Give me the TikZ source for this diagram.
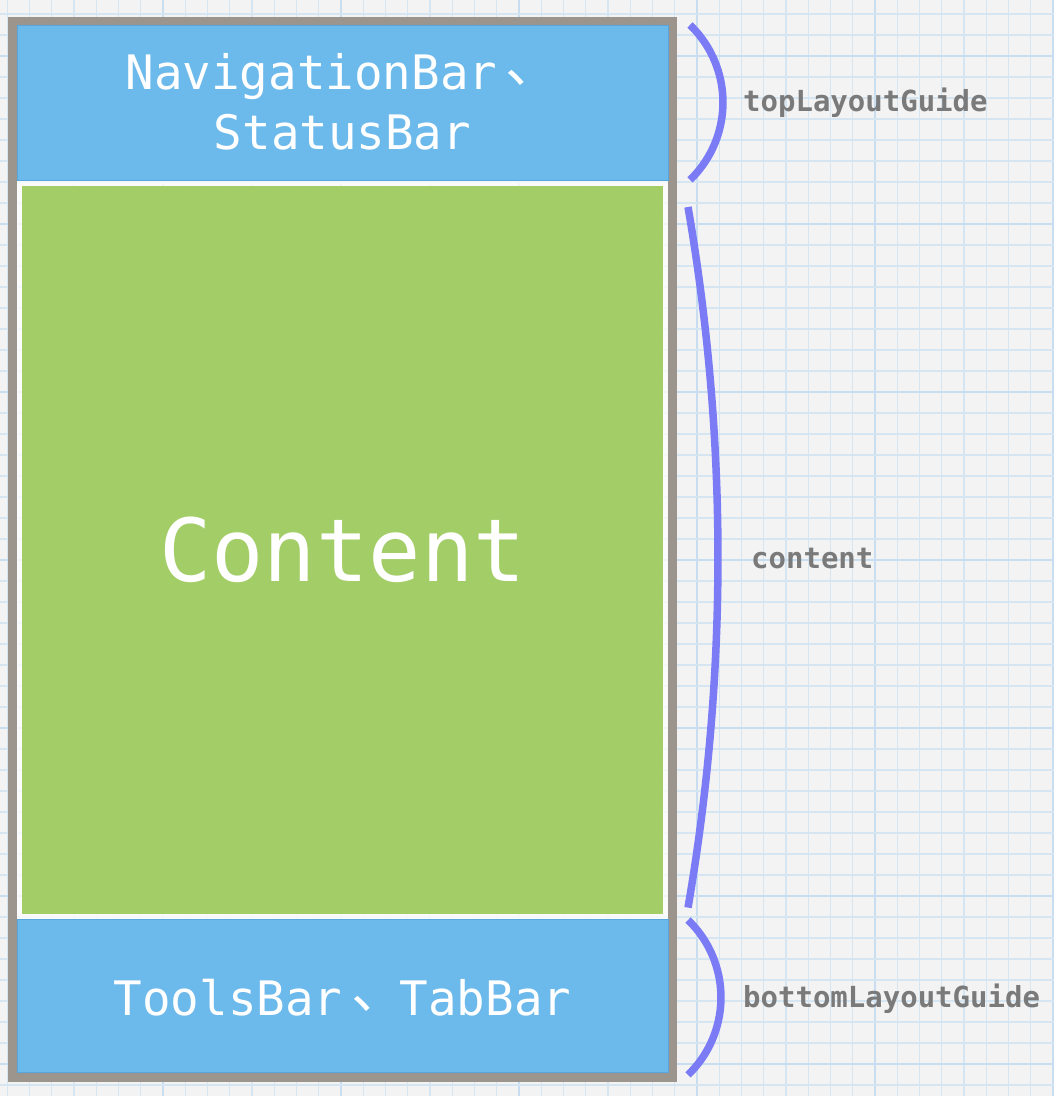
\documentclass[tikz,border=0pt]{standalone}
\usepackage{fontspec}
\newfontfamily\monofont{DejaVu Sans Mono}
\newfontfamily\cjkfont{Noto Sans CJK SC}
\newcommand{\dunhao}{\makebox[1.204em][l]{\hspace{0.18em}\raisebox{0.16em}{\scalebox{1.15}{\cjkfont 、}}}}
\definecolor{paper}{HTML}{F3F3F3}
\definecolor{gridminor}{HTML}{D5E6F2}
\definecolor{gridmajor}{HTML}{C8DEF0}
\definecolor{framegray}{HTML}{9C958D}
\definecolor{barblue}{HTML}{62B5EA}
\definecolor{barblueedge}{HTML}{56A5DC}
\definecolor{contentgreen}{HTML}{A3CD66}
\definecolor{bracecol}{HTML}{7B7CF5}
\definecolor{labelgray}{HTML}{7A7A7A}
\begin{document}
\begin{tikzpicture}[x=1pt,y=1pt,
  gridline/.style={gridminor,line width=1.3pt},
  gridbold/.style={gridmajor,line width=2.6pt},
  barbox/.style={fill=barblue,fill opacity=0.93,draw=barblueedge,line width=1pt},
  bracearc/.style={draw=bracecol,line width=7.5pt},
  bigtext/.style={text=white,inner sep=0pt,font=\monofont\fontsize{47.5}{56}\selectfont},
  contenttext/.style={text=white,inner sep=0pt,font=\monofont\fontsize{87}{100}\selectfont},
  guidelabel/.style={text=labelgray,inner sep=0pt,font=\monofont\bfseries\fontsize{29}{34}\selectfont}]
\useasboundingbox (0,0) rectangle (1054,1096);
\begin{scope}
\clip (0,0) rectangle (1054,1096);
\fill[paper] (0,0) rectangle (1054,1096);
% grid
\foreach \n in {-31,...,16}{
  \pgfmathsetmacro{\gx}{697+22.25*\n}
  \pgfmathtruncatemacro{\md}{mod(\n+32,8)}
  \ifnum\md=0
    \draw[gridbold] (\gx,0) -- (\gx,1096);
  \else
    \draw[gridline] (\gx,0) -- (\gx,1096);
  \fi
}
\foreach \m in {-2,...,50}{
  \pgfmathsetmacro{\gy}{1040-21*\m}
  \pgfmathtruncatemacro{\md}{mod(\m+16,8)}
  \ifnum\md=0
    \draw[gridbold] (0,\gy) -- (1054,\gy);
  \else
    \draw[gridline] (0,\gy) -- (1054,\gy);
  \fi
}
\end{scope}
% frame
\draw[framegray,line width=9pt,fill=white,fill opacity=0.75] (12.5,18.5) rectangle (672.5,1074.5);
% bars and content
\path[barbox] (17,915) rectangle (668,1070);
\fill[contentgreen] (22,182) rectangle (663,910);
\path[barbox] (17,23) rectangle (668,176);
% texts
\node[bigtext,anchor=base] (nav) at (340,1006) {NavigationBar\dunhao};
\node[bigtext,anchor=base] (status) at (342.5,946) {StatusBar};
\node[contenttext,anchor=base] (content) at (342.5,514) {Content};
\node[bigtext,anchor=base] (tools) at (342.5,80) {ToolsBar\dunhao TabBar};
% braces
\draw[bracearc] (690,1071) arc[start angle=46.1,end angle=-46.1,radius=107.5];
\draw[bracearc] (688,889) arc[start angle=9.78,end angle=-9.78,radius=2062.5];
\draw[bracearc] (688,176) arc[start angle=46.1,end angle=-46.1,radius=107.5];
% labels
\node[guidelabel,anchor=base west] (toplabel) at (743,984) {topLayoutGuide};
\node[guidelabel,anchor=base west] (contentlabel) at (751,527) {content};
\node[guidelabel,anchor=base west] (bottomlabel) at (743,88) {bottomLayoutGuide};
\end{tikzpicture}
\end{document}
